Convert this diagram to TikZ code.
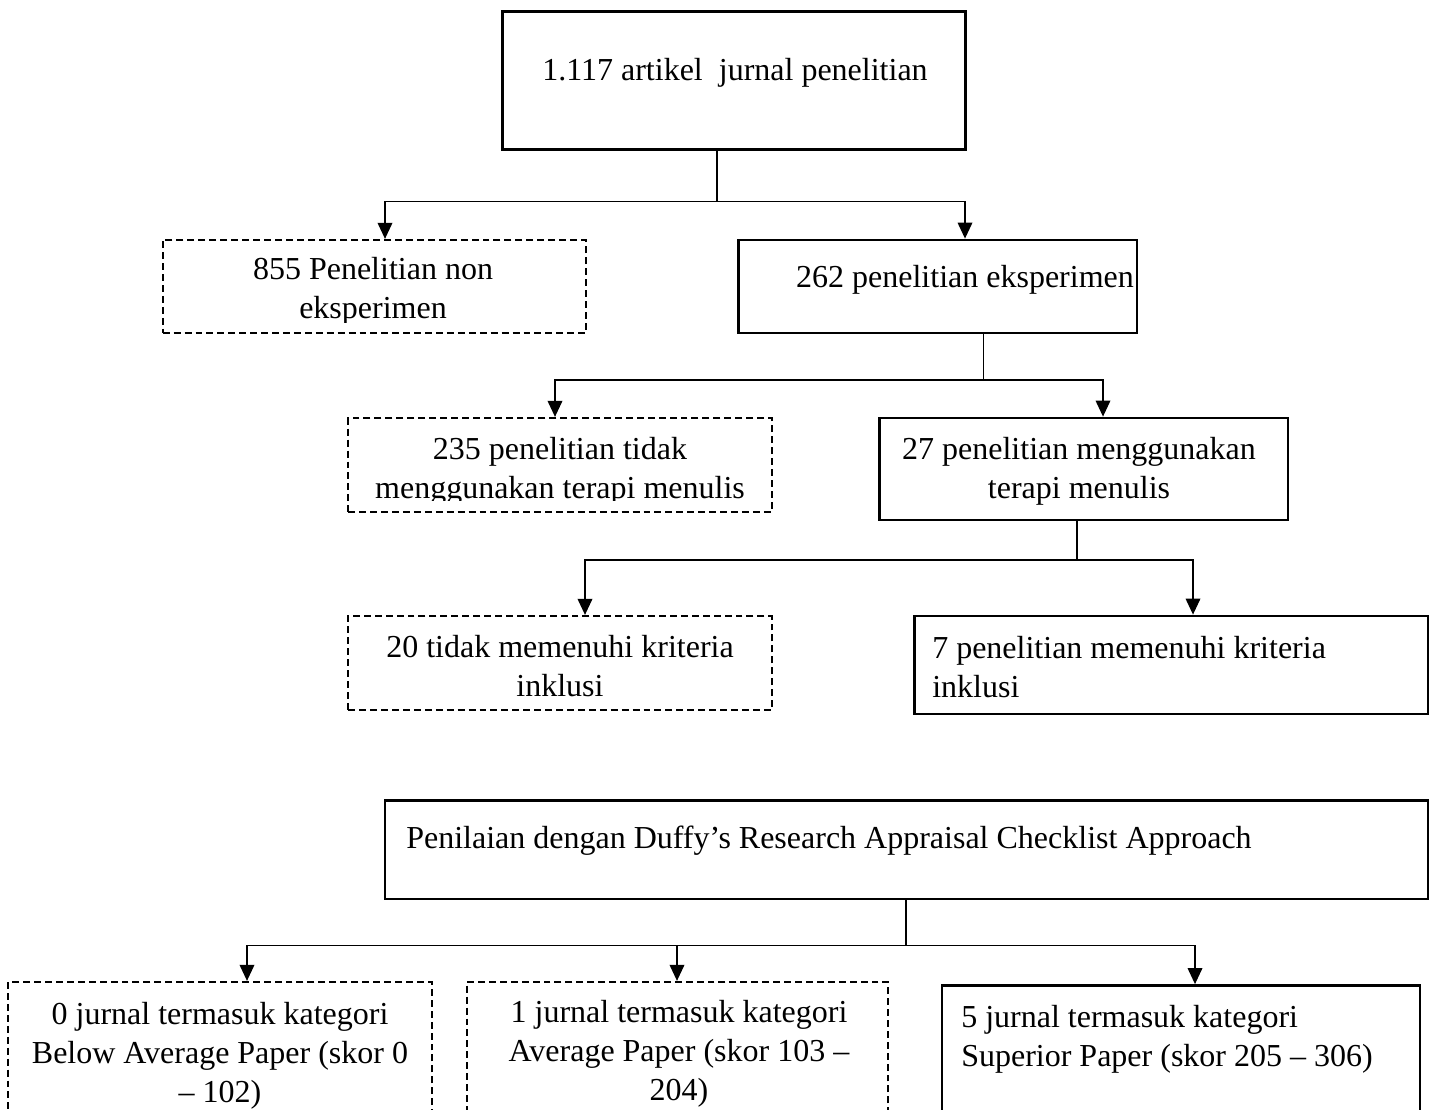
\documentclass[tikz,border=0pt]{standalone}
\usepackage{fontspec}
\setmainfont{Liberation Serif}
\usetikzlibrary{arrows.meta,fit}
\begin{document}
\begin{tikzpicture}[x=0.75pt,y=-0.75pt,
  solidbox/.style={draw, line width=2.1pt, rectangle, inner sep=0pt},
  dashbox/.style={draw, line width=1.7pt, rectangle, inner sep=0pt, dash pattern=on 5.2pt off 3pt},
  txt/.style={font=\fontsize{24}{29}\selectfont, inner sep=0pt, anchor=base, align=center},
  txtl/.style={font=\fontsize{24}{29}\selectfont, inner sep=0pt, anchor=base west, align=left},
  link/.style={line width=1pt},
  arr/.style={link, -{Triangle[length=12pt,width=11pt]}}]
\clip (0,0) rectangle (1435,1110);
\fill[white] (0,0) rectangle (1435,1110);

% boxes
\node[solidbox, fit={(502.7,11.3) (965.7,149.3)}] (A) {};
\node[dashbox, fit={(162.7,240) (585.7,333)}] (N855) {};
\node[solidbox, fit={(738.3,240) (1137,333)}] (B) {};
\node[dashbox, fit={(348.3,418) (771.7,511.7)}] (N235) {};
\node[solidbox, fit={(879.3,418) (1288,520)}] (C) {};
\node[dashbox, fit={(348.3,616) (771.7,710)}] (N20) {};
\node[solidbox, fit={(914.5,616) (1428,714)}] (N7) {};
\node[solidbox, fit={(385,800.7) (1428,899)}] (P) {};
\node[dashbox, fit={(8.3,982) (431.7,1130)}] (N0) {};
\node[dashbox, fit={(466.7,982) (888.3,1130)}] (N1) {};
\node[solidbox, fit={(942,985.5) (1420,1130)}] (N5) {};

% texts (anchor = baseline of the last line)
\node[txt] (tA) at (735,80) {1.117 artikel\ \ jurnal penelitian};
\begin{scope}
\clip (162.7,240) rectangle (585.7,322);
\node[txt] (t855) at (373,318) {855 Penelitian non\\eksperimen};
\end{scope}
\node[txt] (tB) at (965,287) {262 penelitian eksperimen};
\begin{scope}
\clip (348.3,418) rectangle (771.7,500.5);
\node[txt] (t235) at (560,498) {235 penelitian tidak\\menggunakan terapi menulis};
\end{scope}
\node[txt] (tC) at (1079,498) {27 penelitian menggunakan\\terapi menulis};
\node[txt] (t20) at (560,696) {20 tidak memenuhi kriteria\\inklusi};
\node[txtl] (t7) at (932,697) {7 penelitian memenuhi kriteria\\inklusi};
\node[txtl] (tP) at (406,848) {Penilaian dengan Duffy’s Research Appraisal Checklist Approach};
\node[txt] (t0) at (220,1102) {0 jurnal termasuk kategori\\Below Average Paper (skor 0\\– 102)};
\node[txt] (t1) at (679,1100) {1 jurnal termasuk kategori\\Average Paper (skor 103 –\\204)};
\node[txtl] (t5) at (961,1066) {5 jurnal termasuk kategori\\Superior Paper (skor 205 – 306)};

% connector points
\coordinate (s1) at (717,201.5);
\coordinate (a1l) at (385,201.5);
\coordinate (a1r) at (965,201.5);
\coordinate (s2) at (983.5,380);
\coordinate (a2l) at (555,380);
\coordinate (a2r) at (1103,380);
\coordinate (s3) at (1077,560);
\coordinate (a3l) at (585,560);
\coordinate (a3r) at (1193,560);
\coordinate (s4) at (906,945.5);
\coordinate (a4l) at (247,945.5);
\coordinate (a4m) at (677,945.5);
\coordinate (a4r) at (1195,945.5);

% connectors
\draw[link] (A.south -| s1) -- (s1);
\draw[arr] (s1) -- (a1l) -- (N855.north -| a1l);
\draw[arr] (s1) -- (a1r) -- (B.north -| a1r);

\draw[link] (B.south -| s2) -- (s2);
\draw[arr] (s2) -- (a2l) -- (N235.north -| a2l);
\draw[arr] (s2) -- (a2r) -- (C.north -| a2r);

\draw[link] (C.south -| s3) -- (s3);
\draw[arr] (s3) -- (a3l) -- (N20.north -| a3l);
\draw[arr] (s3) -- (a3r) -- (N7.north -| a3r);

\draw[link] (P.south -| s4) -- (s4);
\draw[arr] (s4) -- (a4l) -- (N0.north -| a4l);
\draw[arr] (s4) -- (a4m) -- (N1.north -| a4m);
\draw[arr] (s4) -- (a4r) -- (N5.north -| a4r);
\end{tikzpicture}
\end{document}
